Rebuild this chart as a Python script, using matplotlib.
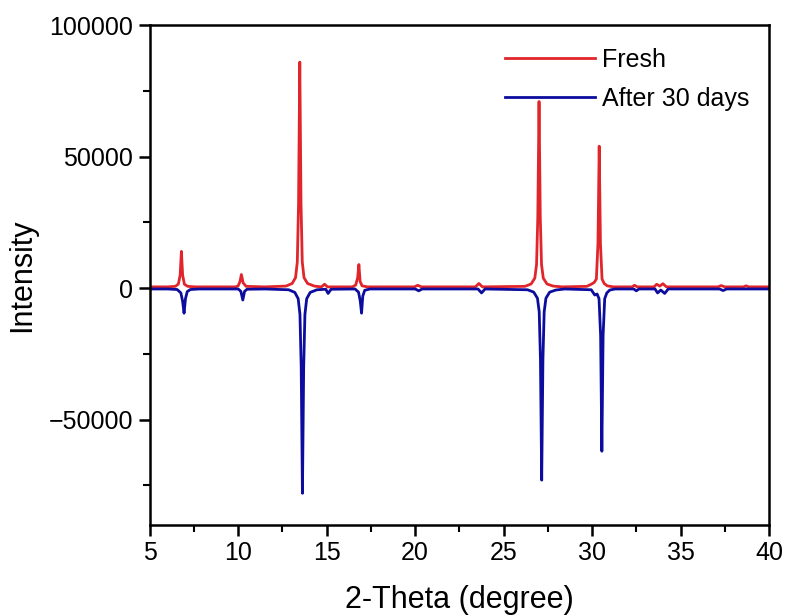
import matplotlib
matplotlib.use("Agg")
import matplotlib.pyplot as plt
from matplotlib.ticker import MultipleLocator

plt.rcParams['font.family'] = ['Liberation Sans', 'DejaVu Sans']

# fresh pattern, vertices (2-theta, intensity)
fresh_x = [5.0, 6.0, 6.45, 6.62, 6.72, 6.79, 6.86, 6.96, 7.15, 7.6,
           9.85, 10.0, 10.1, 10.18, 10.28, 10.45, 11.5,
           12.7, 13.05, 13.24, 13.34, 13.41, 13.48, 13.55, 13.62, 13.72, 13.92, 14.3,
           14.7, 14.88, 15.05, 16.45, 16.64, 16.75, 16.82, 16.89, 17.0, 17.3,
           19.95, 20.15, 20.35, 23.4, 23.6, 23.8,
           26.2, 26.55, 26.76, 26.86, 26.93, 27.0, 27.07, 27.14, 27.24, 27.45, 27.8, 28.3,
           29.7, 29.95, 30.12, 30.24, 30.33, 30.4, 30.47, 30.56, 30.68, 30.85, 31.2,
           32.25, 32.4, 32.55, 33.5, 33.65, 33.82, 34.0, 34.2,
           37.1, 37.3, 37.5, 38.55, 38.7, 38.85, 40.0]
fresh_y = [500, 500, 700, 1600, 5000, 14000, 5000, 1500, 700, 500,
           500, 900, 2500, 5200, 2000, 700, 500,
           800, 1800, 4000, 10000, 32000, 86000, 32000, 10000, 4000, 1800, 800,
           500, 1500, 500, 500, 1200, 4000, 9000, 2500, 900, 500,
           500, 1100, 500, 500, 1800, 500,
           700, 1600, 3800, 9000, 27000, 71000, 27000, 9000, 3800, 1600, 800, 500,
           700, 1500, 2200, 3500, 17000, 54000, 17000, 3500, 1800, 900, 500,
           500, 1100, 500, 500, 1500, 800, 1700, 500,
           500, 1000, 500, 500, 900, 500, 500]

# after 30 days pattern, vertices
aged_x = [5.0, 6.0, 6.55, 6.76, 6.86, 6.94, 7.02, 7.12, 7.3, 7.8,
          10.0, 10.15, 10.26, 10.36, 10.5, 11.5,
          12.85, 13.2, 13.39, 13.49, 13.56, 13.63, 13.7, 13.77, 13.87, 14.07, 14.45,
          14.95, 15.08, 15.25, 16.6, 16.8, 16.9, 16.97, 17.04, 17.15, 17.45,
          20.0, 20.2, 20.4, 23.55, 23.75, 23.95,
          26.35, 26.7, 26.91, 27.01, 27.08, 27.15, 27.22, 27.29, 27.39, 27.6, 27.95, 28.45,
          29.95, 30.15, 30.28, 30.39, 30.48, 30.55, 30.62, 30.71, 30.83, 31.0, 31.3,
          32.35, 32.5, 32.65, 33.55, 33.7, 33.88, 34.1, 34.3,
          37.2, 37.4, 37.6, 40.0]
aged_y = [-300, -300, -500, -1800, -5000, -9500, -4000, -1300, -500, -300,
          -300, -1200, -4500, -1200, -400, -300,
          -600, -1600, -4000, -10000, -30000, -78000, -30000, -10000, -4000, -1600, -600,
          -400, -2000, -400, -300, -1500, -5000, -9500, -3000, -800, -300,
          -300, -1000, -300, -300, -1800, -300,
          -600, -1500, -3800, -9000, -27000, -73000, -27000, -9000, -3800, -1500, -700, -300,
          -600, -2600, -2200, -4000, -18000, -62000, -18000, -4000, -1800, -700, -300,
          -300, -1000, -300, -300, -1800, -700, -2000, -300,
          -300, -900, -300, -300]

x_ticks = [5, 10, 15, 20, 25, 30, 35, 40]
y_ticks = [-50000, 0, 50000, 100000]

fig = plt.figure(figsize=(7.88, 6.16), dpi=100)
ax = fig.add_axes([0.19, 0.148, 0.786, 0.811])

ax.plot(fresh_x, fresh_y, color='#e0262b', lw=2.0, label='Fresh')
ax.plot(aged_x, aged_y, color='#0c0c9e', lw=2.0, label='After 30 days')

ax.set_xlim(5, 40)
ax.set_ylim(-90000, 100000)
ax.set_xticks(x_ticks)
ax.set_yticks(y_ticks)
ax.set_yticklabels(['\u221250000', '0', '50000', '100000'])
ax.xaxis.set_minor_locator(MultipleLocator(2.5))
ax.yaxis.set_minor_locator(MultipleLocator(25000))

for s in ax.spines.values():
    s.set_linewidth(1.8)
ax.tick_params(which='major', direction='out', length=8, width=1.8, labelsize=18, pad=4)
ax.tick_params(which='minor', direction='out', length=5, width=1.5)
ax.tick_params(top=False, right=False)

ax.set_xlabel('2-Theta (degree)', fontsize=22, labelpad=14)
ax.set_ylabel('Intensity', fontsize=22, labelpad=8)

ax.legend(loc='upper right', frameon=False, fontsize=18, handlelength=3.6,
          handletextpad=0.3, labelspacing=0.6, bbox_to_anchor=(1.005, 1.0))

fig.savefig('out.png', dpi=100)
